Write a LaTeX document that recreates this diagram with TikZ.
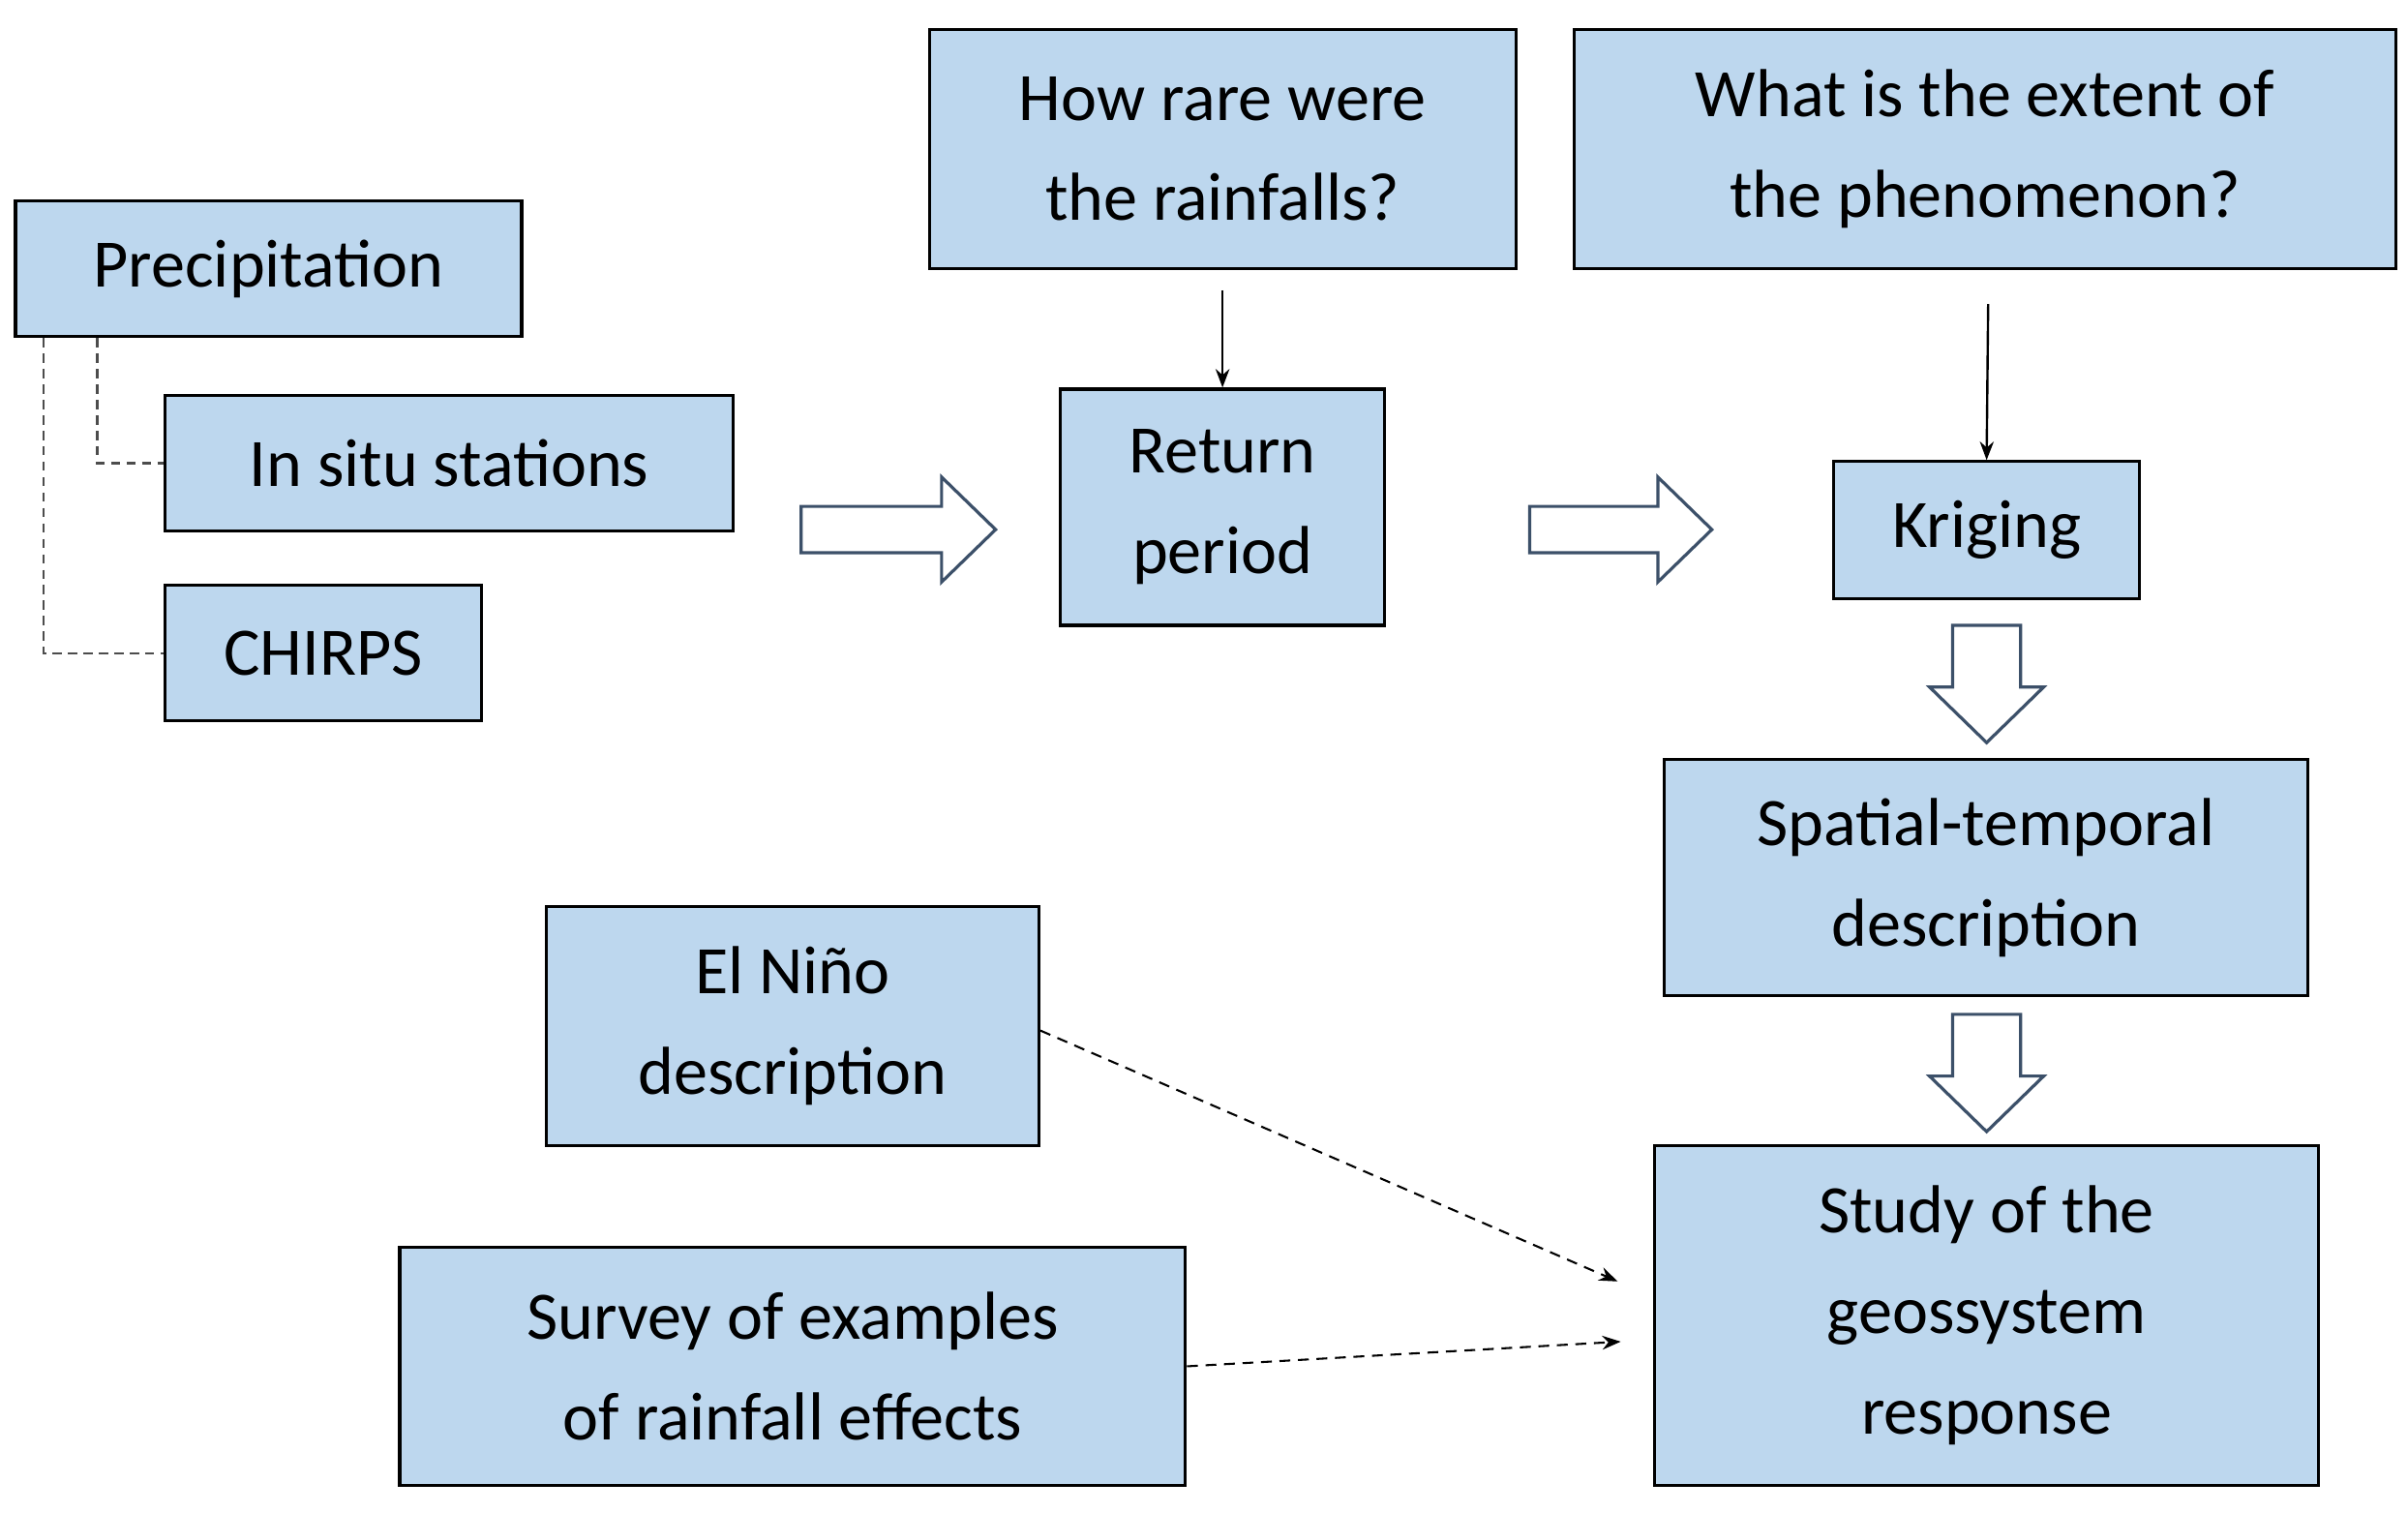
\documentclass[tikz,border=0pt]{standalone}
\usepackage{fontspec}
\setmainfont{Carlito}
\usetikzlibrary{arrows.meta}
\definecolor{boxblue}{RGB}{189,215,238}
\definecolor{arrline}{RGB}{60,80,105}
\begin{document}
\begin{tikzpicture}[x=1pt,y=-1pt,
  box/.style={draw, line width=2pt, fill=boxblue, inner sep=0pt, align=center, font=\fontsize{44}{65}\selectfont},
  thinarr/.style={line width=1.5pt, -{Stealth[length=12pt,width=9pt]}},
  treeline/.style={line width=1.3pt, dash pattern=on 6pt off 4pt, gray!60!black},
  darr/.style={line width=1.3pt, dash pattern=on 7pt off 5pt, -{Stealth[length=12pt,width=9pt]}},
  barrow/.style={draw=arrline, line width=2pt, fill=white, line join=miter}]
\useasboundingbox (0,0) rectangle (1560,980);
\node[box, minimum width=328, minimum height=88] (P) at (174,174) {Precipitation};
\node[box, minimum width=368, minimum height=88] (IS) at (291,300) {In situ stations};
\node[box, minimum width=205, minimum height=88] (CH) at (209.5,423) {CHIRPS};
\node[box, minimum width=380, minimum height=155] (HR) at (792,96.5) {How rare were\\the rainfalls?};
\node[box, minimum width=532, minimum height=155] (WE) at (1286,96.5) {What is the extent of\\the phenomenon?};
\node[box, minimum width=210, minimum height=153] (RP) at (792,328.5) {Return\\period};
\node[box, minimum width=198, minimum height=89] (KR) at (1287,343.5) {Kriging};
\node[box, minimum width=417, minimum height=153] (ST) at (1286.5,568.5) {Spatial-temporal\\description};
\node[box, minimum width=319, minimum height=155] (EN) at (513.5,664.5) {El Niño\\description};
\node[box, minimum width=509, minimum height=154] (SV) at (513.5,885) {Survey of examples\\of rainfall effects};
\node[box, minimum width=430, minimum height=220] (SD) at (1287,852) {Study of the\\geossystem\\response};
% dashed tree
\draw[treeline] (P.south west -| 28,0) |- (CH.west);
\draw[treeline] (P.south west -| 63,0) |- (IS.west);
% thin arrows
\coordinate (a1) at (792,188);
\coordinate (a2) at (1288,197);
\draw[thinarr] (a1) -- (RP.north);
\draw[thinarr] (a2) -- (KR.north);
% block arrows
\draw[barrow] (519,328) -- (610,328) -- (610,309) -- (645,343) -- (610,377) -- (610,358) -- (519,358) -- cycle;
\draw[barrow] (991,328) -- (1074,328) -- (1074,309) -- (1109,343) -- (1074,377) -- (1074,358) -- (991,358) -- cycle;
\draw[barrow] (1265,405) -- (1309,405) -- (1309,445) -- (1324,445) -- (1287,481) -- (1250,445) -- (1265,445) -- cycle;
\draw[barrow] (1265,657) -- (1309,657) -- (1309,697) -- (1324,697) -- (1287,733) -- (1250,697) -- (1265,697) -- cycle;
% dashed arrows
\coordinate (e1) at (1048,830);
\coordinate (e2) at (1050,869);
\draw[darr] (EN.east) ++(0,3) -- (e1);
\draw[darr] (SV.east) -- (e2);
\end{tikzpicture}
\end{document}
